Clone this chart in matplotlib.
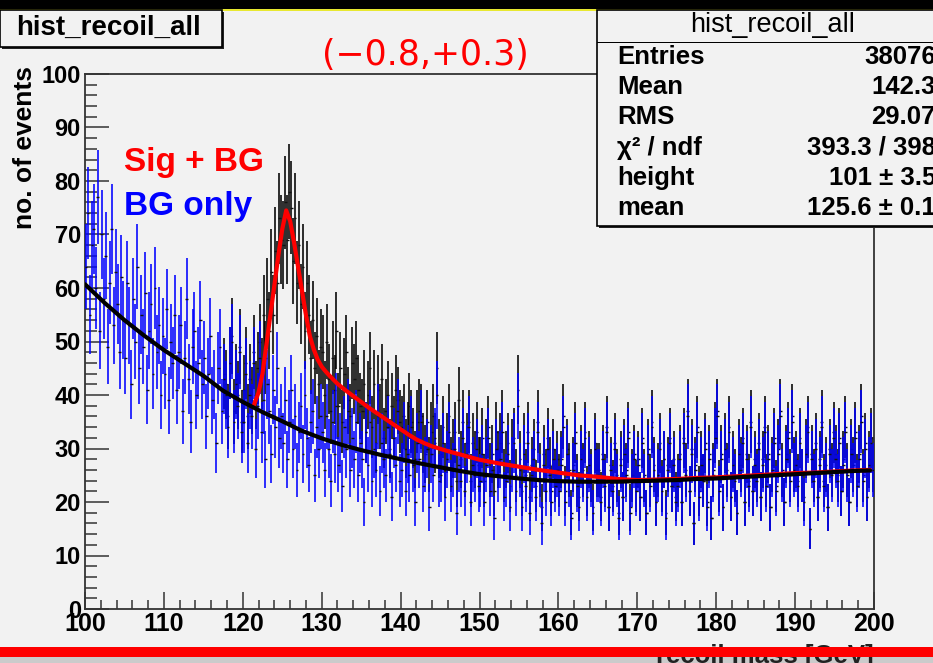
import numpy as np
import matplotlib.pyplot as plt
from matplotlib.patches import Rectangle

# binning of hist_recoil_all
x_lo, x_hi, n_bins = 100.0, 200.0, 400

# BG only histogram (blue), 20 bins per row = 5 GeV
bg_only = [
    64, 74, 55, 68, 71, 60, 77, 52, 70, 58, 66, 49, 61, 71, 53, 63, 57, 48, 62, 54,
    47, 61, 53, 42, 58, 50, 64, 45, 55, 49, 59, 41, 52, 57, 44, 60, 48, 53, 40, 51,
    44, 56, 39, 50, 46, 55, 41, 48, 53, 37, 47, 58, 43, 35, 49, 52, 40, 46, 54, 42,
    47, 36, 44, 51, 39, 42, 31, 45, 49, 37, 43, 40, 34, 46, 50, 35, 42, 38, 48, 33,
    35, 44, 31, 40, 36, 46, 30, 38, 47, 33, 39, 28, 42, 37, 29, 41, 34, 45, 32, 36,
    31, 39, 28, 35, 41, 30, 36, 26, 33, 38, 29, 40, 32, 27, 35, 37, 25, 34, 30, 36,
    33, 26, 36, 30, 24, 35, 29, 38, 27, 31, 23, 34, 30, 37, 26, 32, 28, 35, 25, 31,
    28, 20, 33, 27, 35, 24, 30, 26, 36, 22, 31, 28, 25, 34, 29, 21, 32, 27, 37, 24,
    26, 33, 22, 29, 25, 34, 27, 20, 31, 28, 35, 23, 27, 30, 19, 29, 25, 32, 40, 24,
    25, 31, 21, 28, 33, 23, 26, 30, 18, 27, 24, 32, 22, 29, 34, 20, 27, 25, 30, 23,
    24, 29, 20, 27, 32, 22, 26, 17, 30, 25, 28, 33, 21, 24, 29, 19, 27, 31, 22, 38,
    26, 19, 29, 23, 31, 18, 25, 28, 21, 33, 24, 16, 27, 22, 30, 25, 20, 28, 23, 26,
    22, 27, 34, 20, 29, 24, 17, 26, 31, 23, 19, 28, 25, 32, 21, 27, 24, 18, 30, 25,
    25, 20, 28, 23, 33, 19, 26, 22, 30, 24, 17, 27, 21, 29, 25, 32, 18, 24, 28, 22,
    27, 21, 31, 24, 18, 29, 23, 34, 26, 20, 25, 30, 22, 28, 17, 26, 31, 23, 27, 20,
    23, 28, 20, 31, 25, 36, 22, 29, 16, 26, 33, 21, 27, 24, 30, 19, 28, 17, 25, 32,
    36, 22, 28, 19, 30, 25, 33, 21, 27, 24, 18, 29, 26, 31, 20, 28, 23, 34, 22, 27,
    24, 30, 21, 27, 33, 23, 28, 19, 26, 31, 22, 29, 36, 25, 20, 28, 32, 24, 35, 26,
    27, 23, 31, 25, 20, 29, 33, 15, 28, 24, 30, 21, 27, 34, 23, 26, 19, 29, 25, 32,
    28, 24, 31, 22, 27, 33, 25, 20, 29, 26, 32, 23, 28, 35, 24, 30, 21, 27, 31, 26,
]

# Sig + BG histogram (black), from 117.5 GeV on (below it, it is hidden under the blue one)
sig_bg_from = 117.5
sig_bg = [
    44, 42, 36, 46, 51, 37, 43, 40, 49, 35,
    41, 46, 36, 43, 39, 48, 40, 45, 50, 44, 55, 47, 58, 52, 63, 55, 67, 61, 73, 69,
    68, 76, 69, 78, 75, 65, 73, 61, 68, 57, 64, 52, 61, 55, 47, 54, 45, 51, 42, 49,
    48, 40, 50, 43, 37, 47, 41, 52, 38, 45, 35, 44, 48, 39, 36, 46, 43, 47, 41, 38,
    37, 42, 33, 40, 45, 34, 42, 31, 41, 36, 43, 32, 37, 40, 30, 38, 34, 41, 39, 35,
    34, 36, 30, 33, 38, 35, 32, 28, 35, 37, 36, 31, 29, 35, 27, 33, 36, 31, 45, 30,
    29, 34, 26, 31, 36, 27, 30, 33, 24, 39, 28, 35, 26, 31, 35, 24, 31, 28, 33, 27,
    27, 32, 24, 30, 34, 26, 29, 22, 33, 28, 31, 35, 25, 28, 31, 23, 30, 32, 25, 41,
    28, 22, 31, 25, 33, 21, 27, 30, 23, 35, 26, 19, 29, 25, 32, 27, 22, 30, 25, 28,
    24, 28, 36, 22, 30, 26, 18, 27, 33, 24, 21, 29, 26, 33, 22, 28, 25, 19, 31, 26,
    26, 21, 29, 24, 34, 19, 27, 23, 31, 25, 18, 28, 21, 30, 26, 33, 19, 25, 29, 23,
    28, 21, 32, 25, 18, 30, 24, 35, 27, 20, 26, 31, 23, 28, 18, 27, 32, 23, 28, 21,
    24, 29, 20, 32, 26, 37, 22, 30, 16, 27, 34, 22, 28, 24, 31, 20, 29, 17, 26, 33,
    37, 23, 29, 19, 31, 26, 34, 21, 28, 25, 18, 30, 27, 32, 20, 29, 24, 35, 22, 28,
    25, 31, 21, 28, 34, 24, 29, 19, 27, 32, 23, 30, 37, 26, 20, 29, 33, 25, 36, 27,
    28, 24, 32, 25, 21, 30, 34, 15, 29, 25, 31, 21, 28, 35, 24, 27, 19, 30, 26, 33,
    29, 25, 32, 22, 28, 34, 26, 20, 30, 27, 33, 24, 29, 36, 25, 31, 21, 28, 32, 27,
]

# BG fit (black curve)
bg_fit_x = [100.0, 102.5, 105.0, 107.5, 110.0, 112.5, 115.0, 117.5, 120.0, 122.5,
            125.0, 127.5, 130.0, 132.5, 135.0, 137.5, 140.0, 142.5, 145.0, 147.5,
            150.0, 152.5, 155.0, 157.5, 160.0, 162.5, 165.0, 167.5, 170.0, 172.5,
            175.0, 177.5, 180.0, 182.5, 185.0, 187.5, 190.0, 192.5, 195.0, 197.5, 199.5]
bg_fit_y = [60.7, 57.2, 54.0, 51.1, 48.4, 46.0, 43.6, 40.8, 38.7, 36.8,
            35.1, 33.3, 31.9, 30.7, 29.7, 28.8, 28.0, 27.2, 26.5, 25.8,
            25.2, 24.8, 24.4, 24.1, 23.9, 23.8, 23.8, 23.8, 23.9, 24.0,
            24.1, 24.3, 24.4, 24.6, 24.8, 25.0, 25.2, 25.4, 25.6, 25.8, 25.9]

# Sig + BG fit (red curve)
sb_fit_x = [121.3, 122.0, 122.5, 123.0, 123.5, 124.0, 124.5, 125.0, 125.5, 126.0,
            126.5, 127.0, 127.5, 128.0, 128.5, 129.0, 129.5, 130.0, 130.5, 131.0,
            132.0, 133.0, 134.0, 135.0, 136.0, 137.5, 139.0, 140.0, 141.0, 142.0,
            143.0, 144.0, 146.0, 148.0, 150.0, 152.5, 155.0, 157.5, 160.0, 162.5,
            165.0, 167.5, 170.0, 172.5, 175.0, 177.5, 180.0, 182.5, 185.0, 187.5,
            190.0, 192.5, 195.0, 197.5, 199.5]
sb_fit_y = [37.7, 40.5, 44.0, 49.5, 55.0, 60.5, 66.0, 71.0, 74.5, 72.5,
            68.5, 64.0, 59.5, 55.0, 51.0, 48.5, 46.6, 45.3, 44.4, 43.6,
            42.1, 40.9, 39.8, 38.7, 37.6, 36.1, 34.6, 33.6, 32.6, 31.7,
            31.0, 30.4, 29.5, 28.7, 27.9, 27.2, 26.6, 26.0, 25.5, 25.0,
            24.7, 24.3, 24.1, 24.2, 24.3, 24.5, 24.6, 24.8, 25.0, 25.2,
            25.4, 25.5, 25.7, 25.9, 26.0]

stat_names = ['Entries', 'Mean', 'RMS', 'χ² / ndf', 'height', 'mean']
stat_vals = ['38076', '142.3', '29.07', '393.3 / 398', '101 ± 3.5', '125.6 ± 0.1']

W, H = 933, 663
BG = '#f2f2f2'
SANS = ['Liberation Sans', 'DejaVu Sans']


def px_rect(x0, y0, x1, y1, **kw):
    # rectangle given in pixels from the top-left corner
    return Rectangle((x0 / W, 1 - y1 / H), (x1 - x0) / W, (y1 - y0) / H,
                     transform=fig.transFigure, **kw)


def px_text(x, y, s, **kw):
    return fig.text(x / W, 1 - y / H, s, **kw)


def draw_hist(ax, lo, hi, counts, color, z):
    n = np.asarray(counts, dtype=float)
    err = np.sqrt(n)
    cen = 0.5 * (lo + hi)
    ax.vlines(cen, n - err, n + err, colors=color, lw=1.15, zorder=z)
    ax.hlines(n, lo - 0.05, hi + 0.05, colors='#111111', lw=1.0, zorder=z + 0.5)


fig = plt.figure(figsize=(W / 100, H / 100), dpi=100, facecolor=BG)

# top black bar with yellow edge
fig.add_artist(px_rect(0, 0, W, 9, facecolor='black', edgecolor='none', zorder=20))
fig.add_artist(px_rect(0, 9, W, 10.5, facecolor='#e8e830', edgecolor='none', zorder=20))

ax = fig.add_axes([85 / W, 1 - 609 / H, (874 - 85) / W, (609 - 74) / H])
ax.set_facecolor(BG)

edges = np.linspace(x_lo, x_hi, n_bins + 1)
lo_e, hi_e = edges[:-1], edges[1:]
k0 = int(round((sig_bg_from - x_lo) / (x_hi - x_lo) * n_bins))
draw_hist(ax, lo_e[k0:k0 + len(sig_bg)], hi_e[k0:k0 + len(sig_bg)], sig_bg, '#000000', 2)
draw_hist(ax, lo_e, hi_e, bg_only, '#0000ff', 3)

ax.plot(sb_fit_x, sb_fit_y, color='#ff0000', lw=3.0, zorder=5, solid_capstyle='round')
ax.plot(bg_fit_x, bg_fit_y, color='#000000', lw=3.0, zorder=6, solid_capstyle='round')

ax.set_xlim(x_lo, x_hi)
ax.set_ylim(0, 100)
ax.set_xticks(np.arange(100, 201, 10))
ax.set_xticks(np.arange(100, 201, 2), minor=True)
ax.set_yticks(np.arange(0, 101, 10))
ax.set_yticks(np.arange(0, 101, 2), minor=True)
ax.tick_params(axis='x', which='major', direction='in', length=12.5, width=1.1,
               color='#333333', top=False, pad=2)
ax.tick_params(axis='x', which='minor', direction='in', length=6.2, width=1.1,
               color='#333333', top=False)
ax.tick_params(axis='y', which='major', direction='in', length=17, width=1.1,
               color='#333333', right=False, pad=3)
ax.tick_params(axis='y', which='minor', direction='in', length=8.5, width=1.1,
               color='#333333', right=False)
for lab in ax.get_xticklabels():
    lab.set_fontfamily(SANS)
    lab.set_fontweight('bold')
    lab.set_fontsize(18)
for lab in ax.get_yticklabels():
    lab.set_fontfamily(SANS)
    lab.set_fontweight('bold')
    lab.set_fontsize(17)
for sp in ax.spines.values():
    sp.set_color('#333333')
    sp.set_linewidth(1.3)

# axis titles
px_text(25, 66, 'no. of events', rotation=90, ha='center', va='top',
        fontsize=19, fontweight='bold', family=SANS)
fig.add_artist(px_rect(0, 657, W, H, facecolor='#cbcbcb', edgecolor='none', zorder=0))
px_text(874, 656, 'recoil mass [GeV]', ha='right', va='center', fontsize=18.5,
        fontweight='bold', family=SANS, color='#222222', zorder=5)
fig.add_artist(px_rect(0, 647, W, 657, facecolor='#ff0000', edgecolor='none', zorder=30))

# labels inside the frame
px_text(124, 162, 'Sig + BG', ha='left', va='center', fontsize=24,
        fontweight='bold', family=SANS, color='#ff0000')
px_text(124, 207, 'BG only', ha='left', va='center', fontsize=24,
        fontweight='bold', family=SANS, color='#0000ff')
px_text(425, 55, '(−0.8,+0.3)', ha='center', va='center', fontsize=25,
        family=['DejaVu Sans'], color='#ff0000')

# title box
fig.add_artist(px_rect(2, 12, 224, 49, facecolor='#222222', edgecolor='none', zorder=21))
fig.add_artist(px_rect(0, 10, 222, 47, facecolor=BG, edgecolor='black', lw=1.2, zorder=22))
px_text(108, 28, 'hist_recoil_all', ha='center', va='center', fontsize=20,
        fontweight='bold', family=SANS, zorder=23)

# stats box
fig.add_artist(px_rect(599, 12, W + 10, 228, facecolor='#222222', edgecolor='none', zorder=21))
fig.add_artist(px_rect(597, 10, W + 10, 226, facecolor=BG, edgecolor='black', lw=1.2, zorder=22))
fig.add_artist(px_rect(597, 41.5, W + 10, 42.5, facecolor='black', edgecolor='none', zorder=23))
px_text(773, 25, 'hist_recoil_all', ha='center', va='center', fontsize=19.5,
        family=SANS, zorder=23)
for i, (nm, val) in enumerate(zip(stat_names, stat_vals)):
    yy = 57 + i * 30.2
    px_text(617, yy, nm, ha='left', va='center', fontsize=18.5, fontweight='bold',
            family=SANS, zorder=23)
    px_text(936, yy, val, ha='right', va='center', fontsize=18.5, fontweight='bold',
            family=SANS, zorder=23)

fig.savefig('out.png', dpi=100, facecolor=BG)
